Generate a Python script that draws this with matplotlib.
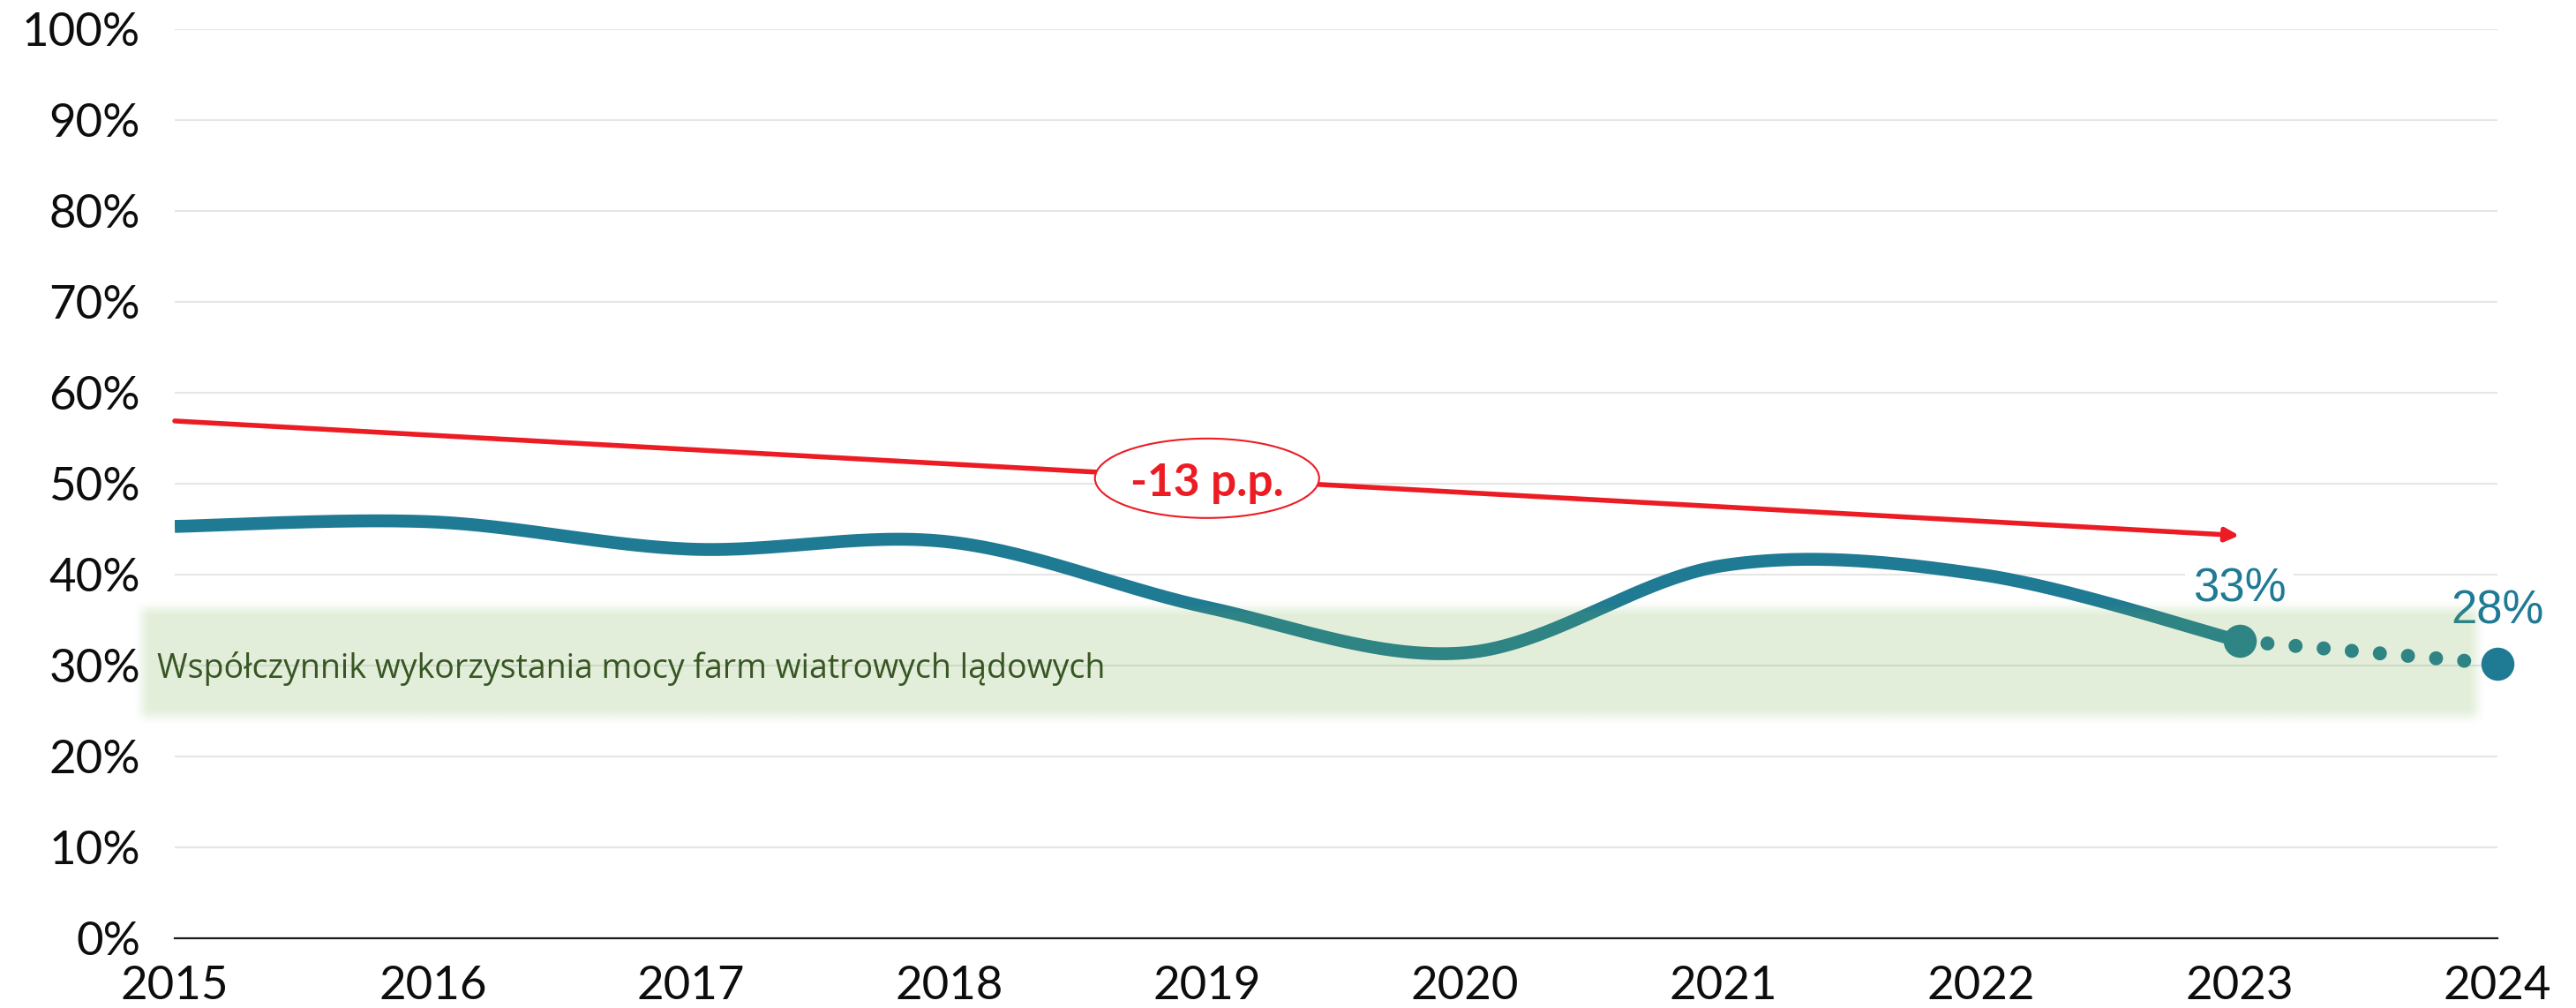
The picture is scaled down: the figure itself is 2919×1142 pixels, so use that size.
import numpy as np
import matplotlib
matplotlib.use("Agg")
import matplotlib.pyplot as plt
from matplotlib.patches import Ellipse
from matplotlib.colors import to_rgb

plt.rcParams['font.family'] = ['Lato', 'DejaVu Sans']

# ---------------- data ----------------
years = [2015, 2016, 2017, 2018, 2019, 2020, 2021, 2022, 2023, 2024]
year_labels = [str(y) for y in years]
cf_values = [45.3, 45.8, 42.8, 43.6, 36.4, 31.4, 41.0, 40.0, 32.7, 30.2]
label_years = [2023, 2024]
label_texts = ['33%', '28%']
trend_start_year, trend_start_val = 2015, 56.9
trend_end_year, trend_end_val = 2023, 44.3
trend_text = '-13 p.p.'
band_label = 'Współczynnik wykorzystania mocy farm wiatrowych lądowych'
y_ticks = list(range(0, 101, 10))
y_tick_labels = [f'{v}%' for v in y_ticks]

# ---------------- style ----------------
LINE = '#1f7a94'
RED = '#ec1c24'
GREEN = '#70ad47'
DARKGREEN = '#375623'


def catmull_rom(x, y, n=80):
    pts = [np.array(p, float) for p in zip(x, y)]
    pts = [pts[0]] + pts + [pts[-1]]
    out = []
    t = np.linspace(0, 1, n)[:, None]
    for i in range(1, len(pts) - 2):
        p0, p1, p2, p3 = pts[i - 1], pts[i], pts[i + 1], pts[i + 2]
        seg = 0.5 * (2 * p1 + (-p0 + p2) * t + (2 * p0 - 5 * p1 + 4 * p2 - p3) * t ** 2
                     + (-p0 + 3 * p1 - 3 * p2 + p3) * t ** 3)
        out.append(seg if i == 1 else seg[1:])
    out = np.vstack(out)
    return out[:, 0], out[:, 1]


fig = plt.figure(figsize=(29.19, 11.42), dpi=100)
ax = fig.add_axes([198 / 2919, 79 / 1142, 2632 / 2919, 1030 / 1142])

# solid smoothed line 2015-2023
sx, sy = catmull_rom(years[:-1], cf_values[:-1])
ax.plot(sx, sy, color=LINE, lw=10.5, solid_capstyle='butt', solid_joinstyle='round', zorder=3)
# dotted forecast segment 2023-2024
ax.plot(years[-2:], cf_values[-2:], color=LINE, lw=11.5, linestyle=(0, (0.001, 2.0)),
        dash_capstyle='round', zorder=3)
ax.plot(years[-2:], cf_values[-2:], linestyle='none', marker='o', markersize=27,
        color=LINE, markeredgewidth=0, zorder=3, clip_on=False)

# trend arrow
ax.annotate('', xy=(trend_end_year, trend_end_val), xytext=(trend_start_year, trend_start_val),
            arrowprops=dict(arrowstyle='-|>,head_length=0.45,head_width=0.22', color=RED,
                            lw=4.0, mutation_scale=20, shrinkA=0, shrinkB=0), zorder=4)
mid_x = (trend_start_year + trend_end_year) / 2
mid_y = (trend_start_val + trend_end_val) / 2
ax.add_patch(Ellipse((mid_x, mid_y), width=254 / 292.4, height=90 / 10.3,
                     facecolor='white', edgecolor=RED, lw=1.5, zorder=6))
ax.text(mid_x, mid_y - 2.0, trend_text, color=RED, fontsize=37, fontweight='bold',
        ha='center', va='baseline', zorder=7)

# data labels
for yr, txt in zip(label_years, label_texts):
    val = cf_values[years.index(yr)]
    bb = dict(facecolor='white', edgecolor='none', pad=6) if yr == 2023 else None
    ax.annotate(txt, xy=(yr, val), xytext=(0, 32.5), textcoords='offset points',
                ha='center', va='baseline', fontsize=38, color=LINE, zorder=4,
                family=['Liberation Sans', 'DejaVu Sans'],
                bbox=bb, annotation_clip=False)

# soft green band overlay
bx_out0, bx_core0, bx_core1, bx_out1 = 2014.836, 2014.904, 2023.888, 2023.957
by_out0, by_core0, by_core1, by_out1 = 23.3, 25.4, 35.3, 37.2
W, H = 1400, 240
gx = np.linspace(bx_out0, bx_out1, W)
gy = np.linspace(by_out0, by_out1, H)


def smooth(v):
    v = np.clip(v, 0, 1)
    return v * v * (3 - 2 * v)


ax_a = smooth((gx - bx_out0) / (bx_core0 - bx_out0)) * smooth((bx_out1 - gx) / (bx_out1 - bx_core1))
ay_a = smooth((gy - by_out0) / (by_core0 - by_out0)) * smooth((by_out1 - gy) / (by_out1 - by_core1))
rgba = np.zeros((H, W, 4))
rgba[..., :3] = to_rgb(GREEN)
rgba[..., 3] = 0.2 * np.outer(ay_a, ax_a)
ax.imshow(rgba, extent=[bx_out0, bx_out1, by_out0, by_out1], origin='lower', aspect='auto',
          interpolation='bilinear', zorder=5, clip_on=False)

ax.text(2014.93, 28.6, band_label, family=['Open Sans', 'DejaVu Sans'], fontsize=27,
        color=DARKGREEN, ha='left', va='baseline', zorder=6, clip_on=False)

# axes styling
ax.set_xlim(years[0], years[-1])
ax.set_ylim(0, 100)
ax.set_xticks(years)
ax.set_xticklabels(year_labels)
ax.set_yticks(y_ticks)
ax.set_yticklabels(y_tick_labels)
ax.tick_params(axis='both', length=0, labelsize=38, labelcolor='#0d0d0d')
ax.tick_params(axis='y', pad=28)
ax.tick_params(axis='x', pad=22)
ax.yaxis.grid(True, color='#e6e6e6', lw=1.5)
ax.set_axisbelow(True)
for s in ['top', 'right', 'left']:
    ax.spines[s].set_visible(False)
ax.spines['bottom'].set_color('#1a1a1a')
ax.spines['bottom'].set_linewidth(1.6)
ax.spines['bottom'].set_zorder(2)

fig.savefig('out.png', dpi=100, facecolor='white')
